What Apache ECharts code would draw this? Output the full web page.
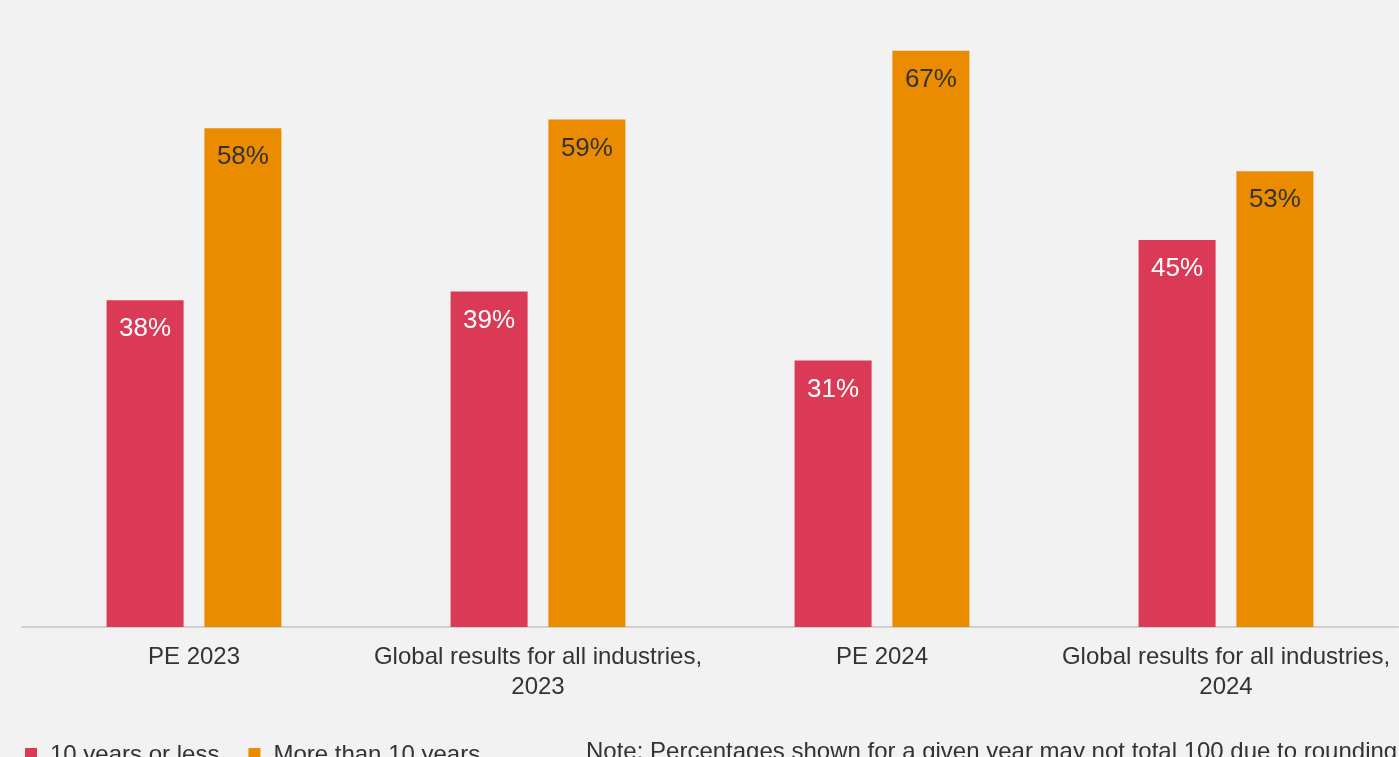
<!DOCTYPE html>
<html>
<head>
<meta charset="utf-8">
<script src="https://cdn.jsdelivr.net/npm/echarts@6/dist/echarts.min.js"></script>
<style>
html,body{margin:0;padding:0;background:#f2f2f2;}
#c{width:1399px;height:757px;}
</style>
</head>
<body>
<div id="c"></div>
<script>
const categories = ["PE 2023", "Global results for all industries,\n2023", "PE 2024", "Global results for all industries,\n2024"];
const seriesNames = ["10 years or less", "More than 10 years"];
const tenOrLess = [38, 39, 31, 45];
const moreThanTen = [58, 59, 67, 53];
const noteText = "Note: Percentages shown for a given year may not total 100 due to rounding.";

const chart = echarts.init(document.getElementById('c'));
const font = "'Liberation Sans', Arial, sans-serif";
chart.setOption({
  backgroundColor: '#f2f2f2',
  animation: false,
  textStyle: {fontFamily: font},
  grid: {left: 22, right: 1, top: 25, height: 602, containLabel: false},
  legend: {
    left: 20, top: 738,
    itemWidth: 12, itemHeight: 14, itemGap: 29,
    icon: 'rect',
    textStyle: {fontSize: 24, color: '#333', fontFamily: font, padding: [0,0,0,8]},
    data: seriesNames
  },
  graphic: [{
    type: 'text', left: 586, top: 740,
    style: {text: noteText, fontSize: 24, fill: '#333', fontFamily: font}
  }],
  xAxis: {
    type: 'category', data: categories,
    axisLine: {lineStyle: {color: '#d0d0d0', width: 2}},
    axisTick: {show: false},
    axisLabel: {fontSize: 24, color: '#333', lineHeight: 30, margin: 15, interval: 0, fontFamily: font}
  },
  yAxis: {type: 'value', min: 0, max: 70, show: false, splitLine: {show: false}},
  series: [
    {
      name: seriesNames[0], type: 'bar', data: tenOrLess,
      barWidth: 77, barGap: '27%',
      itemStyle: {color: '#db3a57'},
      label: {show: true, position: 'insideTop', distance: 16, formatter: '{c}%', fontSize: 26, color: '#fff', fontFamily: font}
    },
    {
      name: seriesNames[1], type: 'bar', data: moreThanTen,
      barWidth: 77,
      itemStyle: {color: '#eb8c00'},
      label: {show: true, position: 'insideTop', distance: 16, formatter: '{c}%', fontSize: 26, color: '#333', fontFamily: font}
    }
  ]
});
</script>
</body>
</html>
